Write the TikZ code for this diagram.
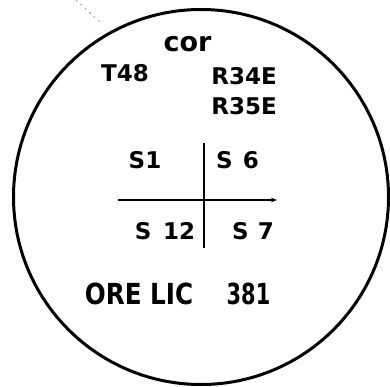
\documentclass[tikz,border=0pt]{standalone}
\usepackage{fontspec}
\setmainfont{DejaVu Sans}
\newfontfamily\condf{DejaVu Sans}[FakeStretch=0.85]
\newfontfamily\condn{DejaVu Sans}[FakeStretch=0.72]
\usetikzlibrary{arrows.meta}
\tikzset{
  lbl/.style={inner sep=0pt, anchor=center, font=\bfseries\fontsize{23}{23}\selectfont},
  big/.style={inner sep=0pt, anchor=center, font=\condf\bfseries\fontsize{29}{29}\selectfont},
  rim/.style={line width=3pt},
  axis/.style={line width=2.2pt}
}
\begin{document}
\begin{tikzpicture}[x=1pt,y=-1pt]
\useasboundingbox (0,0) rectangle (390,387);
\draw[rim] (201,197) circle[radius=187.5];
\draw[gray, line width=0.6pt, dash pattern=on 2pt off 4pt] (76,0) -- (102,24);
\node[lbl, font=\bfseries\fontsize{27}{27}\selectfont] (cor) at (187.5,44) {cor};
\node[lbl] (t48) at (125,73.5) {T48};
\node[lbl] (r34) at (244,76) {R34E};
\node[lbl] (r35) at (244,106) {R35E};
\node[lbl] (s1) at (145,160) {S1};
\node[lbl] (s6) at (237.5,160) {S\hspace{0.45em}6};
\node[lbl] (s12) at (165,231.5) {S\hspace{0.5em}12};
\node[lbl] (s7) at (253,231.5) {S\hspace{0.4em}7};
\node[big] (ore) at (139,294) {ORE LIC};
\node[big, font=\condn\bfseries\fontsize{29}{29}\selectfont] (n381) at (248.5,294) {381};
\coordinate (vt) at (204,143);
\coordinate (vb) at (204,248);
\coordinate (hl) at (118,200);
\coordinate (hr) at (277,200);
\draw[axis] (vt) -- (vb);
\draw[axis, -{Stealth[length=6pt,width=4.5pt]}] (hl) -- (hr);
\end{tikzpicture}
\end{document}
